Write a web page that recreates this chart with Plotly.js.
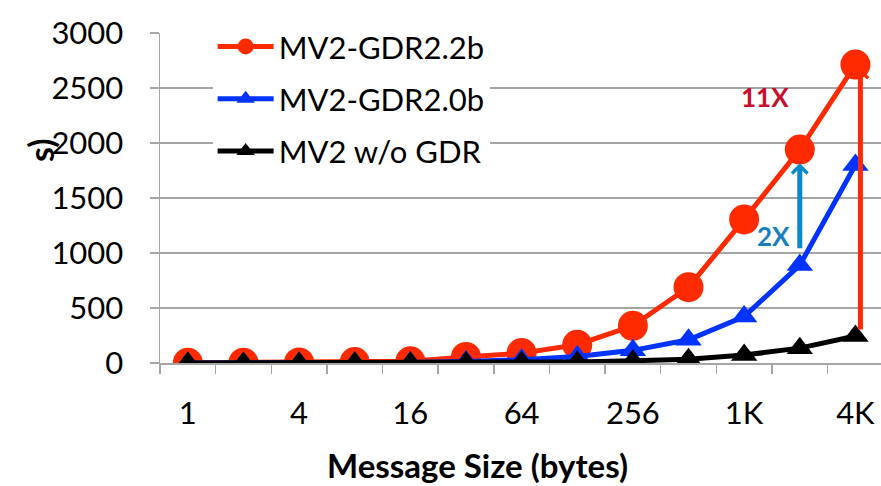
<!DOCTYPE html>
<html>
<head>
<meta charset="utf-8">
<script src="https://cdn.plot.ly/plotly-3.0.1.min.js"></script>
<style>
  html, body { margin: 0; padding: 0; overflow: hidden; background: #fff; }
  #chart { width: 881px; height: 486px; }
</style>
</head>
<body>
<div id="chart"></div>
<script>
// Categories (message sizes) and tick labels
const categories = ['1','2','4','8','16','32','64','128','256','512','1K','2K','4K'];
const tickLabels = ['1','4','16','64','256','1K','4K'];
const seriesNames = ['MV2-GDR2.2b', 'MV2-GDR2.0b', 'MV2 w/o GDR'];

// Series values
const gdr22 = [2, 3, 5, 8, 15, 55, 90, 166, 338, 689, 1305, 1940, 2713];
const gdr20 = [1, 1, 2, 3, 5, 14, 30, 60, 115, 211, 422, 890, 1800];
const noGdr = [1, 1, 1, 2, 3, 4, 6, 10, 20, 35, 72, 135, 245];

// Annotation labels
const speedupLabels = ['11X', '2X'];

const xIdx = categories.map((c, i) => i);
const tickVals = tickLabels.map(t => categories.indexOf(t));

const FONT = 'Lato, "Open Sans", sans-serif';

const traces = [
  {
    x: xIdx, y: gdr22, name: seriesNames[0], type: 'scatter', mode: 'lines+markers',
    line: { color: '#FF2A00', width: 5 },
    marker: { symbol: 'circle', size: 30, color: '#FF2A00' },
    legendgroup: 'a'
  },
  {
    x: xIdx, y: gdr20, name: seriesNames[1], type: 'scatter', mode: 'lines+markers',
    line: { color: '#0033FF', width: 5 },
    marker: { symbol: 'triangle-up', size: 23, color: '#0033FF' },
    legendgroup: 'b'
  },
  {
    x: xIdx, y: noGdr, name: seriesNames[2], type: 'scatter', mode: 'lines+markers',
    line: { color: '#000000', width: 5 },
    marker: { symbol: 'triangle-up', size: 23, color: '#000000' },
    legendgroup: 'c'
  }
];

const layout = {
  width: 881, height: 486,
  margin: { l: 160, r: 0, t: 33, b: 123 },
  paper_bgcolor: '#fff', plot_bgcolor: '#fff',
  font: { family: FONT, size: 31, color: '#000' },
  showlegend: true,
  legend: {
    x: 0.073, y: 1.04, xanchor: 'left', yanchor: 'top',
    bgcolor: '#fff', borderwidth: 0, itemwidth: 56,
    font: { family: FONT, size: 31, color: '#000' },
    tracegroupgap: 9, traceorder: 'grouped'
  },
  xaxis: {
    type: 'linear', range: [-0.5, 12.46],
    tickmode: 'array', tickvals: tickVals, ticktext: tickLabels,
    ticks: '', showgrid: false, zeroline: false,
    showline: true, linecolor: '#A6A6A6', linewidth: 1.5,
    ticklabelstandoff: 22,
    tickfont: { family: FONT, size: 31, color: '#000' },
    minor: { tickmode: 'linear', tick0: -0.5, dtick: 1, ticks: 'outside', ticklen: 9, tickcolor: '#A6A6A6', tickwidth: 1.5, showgrid: false }
  },
  yaxis: {
    range: [0, 3000], dtick: 500, tick0: 0,
    showgrid: true, gridcolor: '#A6A6A6', gridwidth: 1.5,
    zeroline: false, showline: true, linecolor: '#A6A6A6', linewidth: 1.5,
    ticks: 'outside', ticklen: 9, tickcolor: '#A6A6A6', tickwidth: 1.5,
    ticklabelstandoff: 20,
    tickfont: { family: FONT, size: 31, color: '#000' }
  },
  annotations: [
    // speedup arrows
    { x: 11, y: 1815, ax: 11, ay: 1030, xref: 'x', yref: 'y', axref: 'x', ayref: 'y',
      text: '', showarrow: true, arrowhead: 4, arrowsize: 0.6, arrowwidth: 5, arrowcolor: '#0A88CC' },
    { x: 12.09, y: 2680, ax: 12.09, ay: 290, xref: 'x', yref: 'y', axref: 'x', ayref: 'y',
      text: '', showarrow: true, arrowhead: 4, arrowsize: 0.6, arrowwidth: 5, arrowcolor: '#FF2A00' },
    // speedup labels
    { x: 765, y: 486 - 97, xref: 'paper', yref: 'paper', text: '<b>' + speedupLabels[0] + '</b>', showarrow: false,
      font: { family: FONT, size: 26, color: '#C8102E' }, xanchor: 'center', yanchor: 'middle' },
    { x: 773, y: 486 - 236, xref: 'paper', yref: 'paper', text: '<b>' + speedupLabels[1] + '</b>', showarrow: false,
      font: { family: FONT, size: 26, color: '#1A7FC1' }, xanchor: 'center', yanchor: 'middle' },
    // axis titles
    { x: 477, y: 486 - 465, xref: 'paper', yref: 'paper', text: '<b>Message Size (bytes)</b>', showarrow: false,
      font: { family: FONT, size: 33, color: '#000' }, xanchor: 'center', yanchor: 'middle' },
    { x: 40, y: 486 - 150, xref: 'paper', yref: 'paper', text: '<b>s)</b>', showarrow: false, textangle: -90,
      font: { family: FONT, size: 34, color: '#000' }, xanchor: 'center', yanchor: 'middle' }
  ]
};

// convert pixel-placed annotations to paper fractions
const plotW = 881 - 160, plotH = 486 - 33 - 123;
layout.annotations.forEach(a => {
  if (a.xref === 'paper') {
    a.x = (a.x - 160) / plotW;
    a.y = (a.y - 123) / plotH;
  }
});

Plotly.newPlot('chart', traces, layout, { displayModeBar: false, staticPlot: true });
</script>
</body>
</html>
